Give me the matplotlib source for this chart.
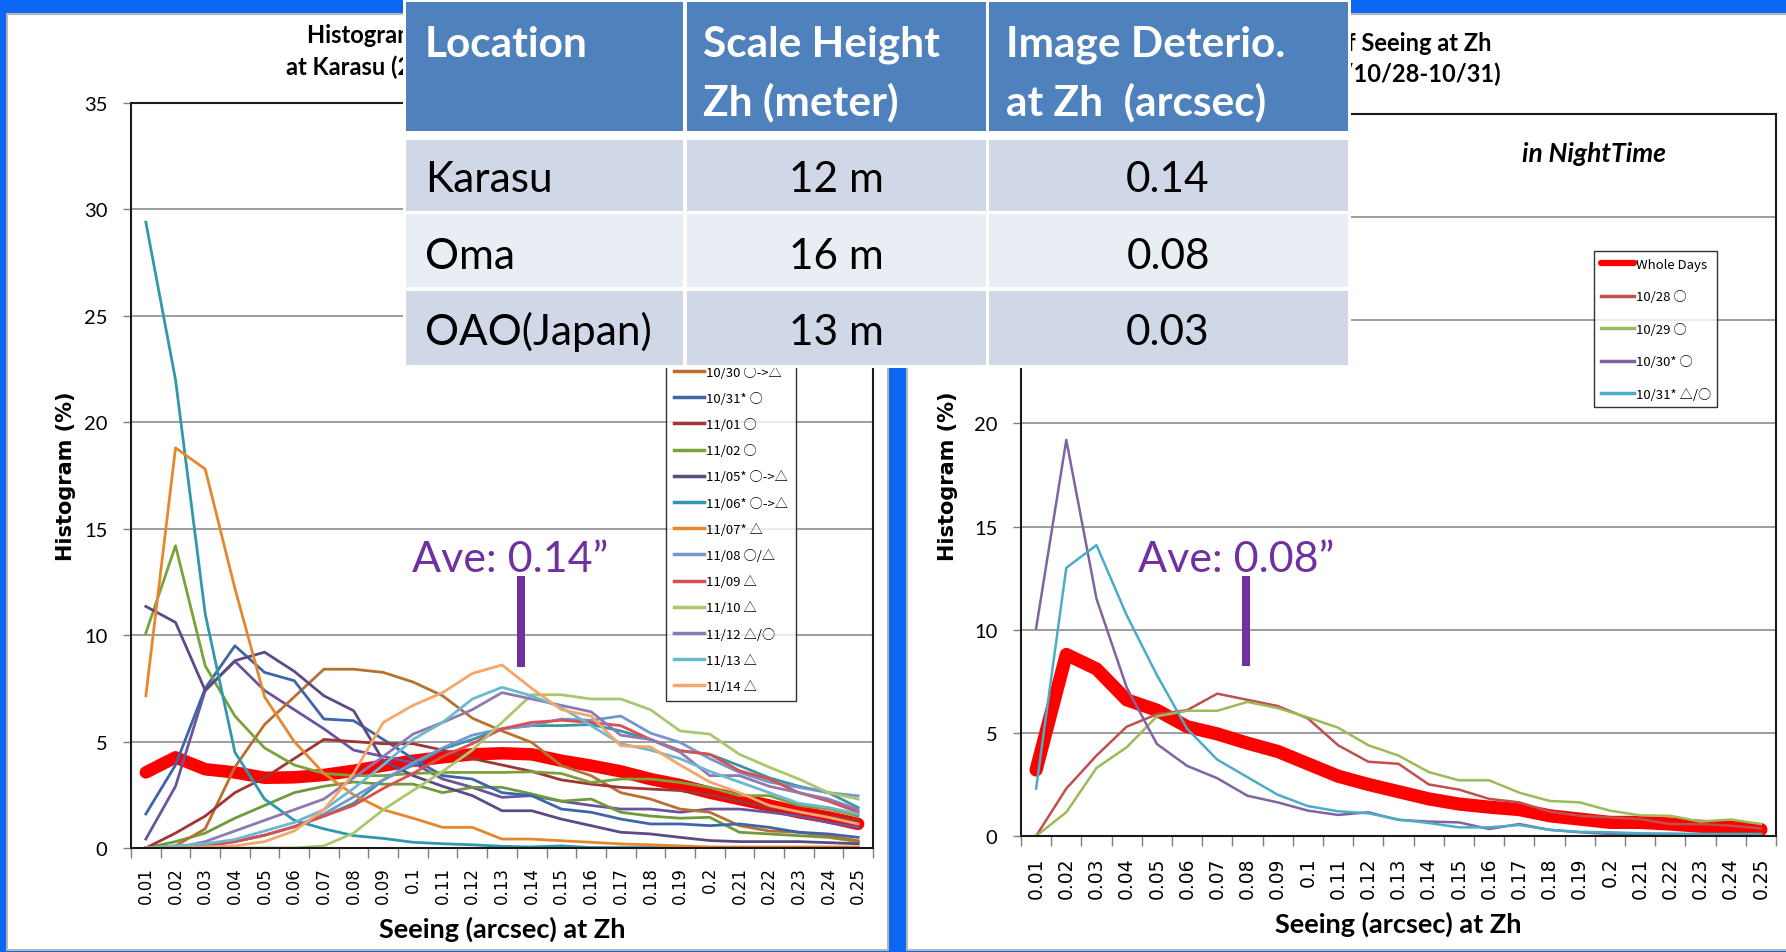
import numpy as np
import matplotlib.pyplot as plt
from matplotlib.patches import Rectangle

W, H = 1786, 953

# seeing bins (category axis)
seeing = ['0.01', '0.02', '0.03', '0.04', '0.05', '0.06', '0.07', '0.08', '0.09', '0.1',
          '0.11', '0.12', '0.13', '0.14', '0.15', '0.16', '0.17', '0.18', '0.19', '0.2',
          '0.21', '0.22', '0.23', '0.24', '0.25']

# --- Karasu histograms (%) ---
kar_whole = [3.55, 4.26, 3.7, 3.55, 3.3, 3.32, 3.43, 3.63, 3.87, 4.1, 4.26, 4.4, 4.45,
             4.4, 4.1, 3.87, 3.6, 3.24, 2.96, 2.6, 2.3, 2.0, 1.68, 1.44, 1.13]
kar_1030 = [0, 0.1, 0.9, 3.8, 5.8, 7.1, 8.4, 8.4, 8.25, 7.8, 7.15, 6.1, 5.5, 4.96, 3.87,
            3.4, 2.6, 2.3, 1.83, 1.68, 1.05, 0.8, 0.74, 0.58, 0.34]
kar_1031 = [1.6, 3.9, 7.5, 9.5, 8.25, 7.86, 6.06, 5.98, 5.1, 4.2, 3.4, 3.24, 2.6, 2.46,
            1.83, 1.68, 1.36, 1.13, 1.13, 1.05, 1.13, 0.97, 0.74, 0.66, 0.5]
kar_1101 = [0, 0.7, 1.5, 2.6, 3.3, 4.2, 5.1, 5.0, 4.9, 4.9, 4.6, 4.2, 3.9, 3.6, 3.2, 3.0,
            2.85, 2.77, 2.7, 2.5, 2.2, 1.9, 1.7, 1.5, 1.3]
kar_1102 = [10.1, 14.2, 8.56, 6.2, 4.7, 3.9, 3.5, 3.4, 3.4, 3.5, 3.55, 3.55, 3.55, 3.58,
            3.5, 3.08, 3.24, 3.24, 3.08, 2.85, 2.46, 2.46, 2.0, 1.83, 1.5]
kar_1105 = [11.35, 10.6, 7.4, 8.8, 9.2, 8.3, 7.15, 6.45, 4.1, 3.4, 2.9, 2.46, 1.75, 1.75,
            1.36, 1.05, 0.74, 0.66, 0.5, 0.35, 0.3, 0.3, 0.3, 0.25, 0.2]
kar_1106 = [29.4, 22.0, 11.0, 4.5, 2.3, 1.3, 0.9, 0.58, 0.45, 0.27, 0.2, 0.15, 0.08, 0.05,
            0.1, 0.02, 0.02, 0.02, 0.02, 0.02, 0.02, 0.02, 0.02, 0.02, 0.02]
kar_1107 = [7.15, 18.8, 17.8, 12.2, 7.1, 5.0, 3.5, 2.5, 1.8, 1.4, 0.97, 0.97, 0.42, 0.42,
            0.34, 0.27, 0.19, 0.15, 0.1, 0.05, 0.05, 0.05, 0.05, 0.05, 0.05]
kar_1108 = [0, 0, 0.1, 0.3, 0.6, 1.0, 1.6, 2.4, 3.2, 4.0, 4.7, 5.3, 5.6, 5.75, 6.06, 6.0,
            6.2, 5.4, 4.96, 4.2, 3.55, 3.1, 2.85, 2.6, 2.45]
kar_1109 = [0, 0, 0.1, 0.3, 0.6, 1.0, 1.5, 2.0, 2.8, 3.5, 4.3, 4.9, 5.6, 5.9, 6.0, 5.9,
            5.75, 5.1, 4.57, 4.4, 3.63, 3.24, 2.6, 2.2, 1.68]
kar_1110 = [0, 0, 0, 0, 0, 0, 0.1, 0.7, 1.8, 2.7, 3.6, 4.6, 5.9, 7.2, 7.2, 7.0, 7.0, 6.5,
            5.5, 5.35, 4.4, 3.8, 3.24, 2.6, 2.3]
kar_1112 = [0, 0, 0.3, 0.8, 1.3, 1.8, 2.3, 3.3, 4.3, 5.35, 5.9, 6.5, 7.3, 7.0, 6.7, 6.4,
            5.3, 5.1, 4.5, 3.4, 3.4, 2.9, 2.6, 2.3, 1.8]
kar_1113 = [0, 0.1, 0.2, 0.4, 0.8, 1.2, 1.8, 2.8, 3.9, 5.1, 5.9, 7.0, 7.55, 7.15, 6.6,
            5.75, 4.9, 4.6, 4.2, 3.6, 3.1, 2.6, 2.1, 1.9, 1.6]
kar_1114 = [0, 0, 0.05, 0.1, 0.3, 0.8, 1.8, 3.5, 5.9, 6.7, 7.3, 8.2, 8.6, 7.5, 6.5, 6.2,
            4.8, 4.75, 3.9, 3.1, 2.6, 2.0, 1.7, 1.44, 1.13]
# days whose legend entries sit under the table
kar_early_a = [0.42, 2.9, 7.4, 8.77, 7.4, 6.5, 5.6, 4.6, 4.3, 4.0, 3.24, 2.85, 2.38, 2.46,
               2.2, 2.0, 1.83, 1.83, 1.68, 1.83, 1.83, 1.68, 1.5, 1.2, 0.97]
kar_early_b = [0, 0.3, 0.7, 1.4, 2.0, 2.6, 2.9, 3.1, 3.0, 3.0, 2.6, 2.85, 2.85, 2.54, 2.2,
               2.3, 1.68, 1.5, 1.4, 1.44, 0.74, 0.66, 0.58, 0.5, 0.3]
kar_early_c = [0, 0, 0.1, 0.3, 0.6, 1.0, 1.5, 2.1, 3.2, 3.9, 4.65, 5.1, 5.6, 5.75, 5.75,
               5.8, 5.5, 5.1, 4.57, 4.4, 3.87, 3.3, 2.9, 2.6, 1.9]

# --- Oma histograms (%) ---
oma_whole = [3.2, 8.8, 8.1, 6.6, 6.1, 5.3, 4.95, 4.5, 4.1, 3.5, 2.9, 2.5, 2.15, 1.8, 1.55,
             1.4, 1.28, 0.98, 0.82, 0.66, 0.66, 0.58, 0.47, 0.42, 0.31]
oma_1028 = [0, 2.3, 3.9, 5.3, 5.9, 6.1, 6.9, 6.6, 6.3, 5.7, 4.4, 3.6, 3.5, 2.5, 2.25, 1.8,
            1.63, 1.18, 0.98, 0.9, 0.82, 0.58, 0.58, 0.5, 0.37]
oma_1029 = [0, 1.15, 3.3, 4.3, 5.8, 6.07, 6.07, 6.5, 6.2, 5.75, 5.25, 4.4, 3.9, 3.1, 2.7,
            2.7, 2.1, 1.7, 1.63, 1.23, 1.0, 0.98, 0.7, 0.8, 0.58]
oma_1030 = [10.06, 19.2, 11.5, 7.2, 4.46, 3.4, 2.8, 1.95, 1.63, 1.23, 1.02, 1.15, 0.78,
            0.7, 0.66, 0.34, 0.58, 0.3, 0.18, 0.1, 0.1, 0.08, 0.07, 0.06, 0.05]
oma_1031 = [2.3, 13.0, 14.1, 10.7, 7.8, 5.2, 3.7, 2.85, 2.0, 1.45, 1.2, 1.1, 0.8, 0.63,
            0.42, 0.42, 0.53, 0.3, 0.2, 0.18, 0.13, 0.12, 0.1, 0.1, 0.1]

# --- table on the slide ---
tbl_header = [['Location', ''], ['Scale Height', 'Zh (meter)'], ['Image Deterio.', 'at Zh  (arcsec)']]
tbl_location = ['Karasu', 'Oma', 'OAO(Japan)']
tbl_height = ['12 m', '16 m', '13 m']
tbl_deterio = ['0.14', '0.08', '0.03']
ave_karasu = '0.14'
ave_oma = '0.08'

kar_series = [
    (kar_early_a, '#6a54a0', '_a'),
    (kar_early_b, '#6f9a3c', '_b'),
    (kar_early_c, '#3b94a6', '_c'),
    (kar_1030, '#b8702e', '10/30 ○->△'),
    (kar_1031, '#3e66a6', '10/31* ○'),
    (kar_1101, '#a13434', '11/01 ○'),
    (kar_1102, '#7ba23a', '11/02 ○'),
    (kar_1105, '#5d4a84', '11/05* ○->△'),
    (kar_1106, '#2f98ae', '11/06* ○->△'),
    (kar_1107, '#e8862e', '11/07* △'),
    (kar_1108, '#7396cc', '11/08 ○/△'),
    (kar_1109, '#d85050', '11/09 △'),
    (kar_1110, '#a9c86e', '11/10 △'),
    (kar_1112, '#8e7ab0', '11/12 △/○'),
    (kar_1113, '#6cb8d0', '11/13 △'),
    (kar_1114, '#f5a66a', '11/14 △'),
]
oma_series = [
    (oma_1028, '#c0504d', '10/28 ○'),
    (oma_1029, '#9bbb59', '10/29 ○'),
    (oma_1030, '#8064a2', '10/30* ○'),
    (oma_1031, '#4bacc6', '10/31* △/○'),
]


def px_box(x0, y0, x1, y1):
    return [x0 / W, 1 - y1 / H, (x1 - x0) / W, (y1 - y0) / H]


fig = plt.figure(figsize=(W / 100, H / 100), dpi=100)
fig.patch.set_facecolor('#0b66f4')

under = fig.add_axes(px_box(0, 0, W, H), zorder=0)
over = fig.add_axes(px_box(0, 0, W, H), zorder=5)
for a in (under, over):
    a.set_xlim(0, W)
    a.set_ylim(H, 0)
    a.axis('off')
    a.patch.set_visible(False)

# white chart panels
under.add_patch(Rectangle((7, 15), 881, 936, fc='white', ec='#b4b4b4', lw=1.5))
under.add_patch(Rectangle((907, 15), 890, 936, fc='white', ec='#b4b4b4', lw=1.5))

ax1 = fig.add_axes(px_box(131, 104, 873, 849), zorder=1)
ax2 = fig.add_axes(px_box(1021, 115, 1776, 837), zorder=1)


def style_chart(ax, tick_fs, xpad):
    n = len(seeing)
    ax.set_xlim(-0.5, n - 0.5)
    ax.set_ylim(0, 35)
    ax.set_xticks(np.arange(n + 1) - 0.5)
    ax.set_xticklabels([])
    ax.set_xticks(np.arange(n), minor=True)
    ax.set_xticklabels(seeing, minor=True, rotation=90, fontsize=tick_fs)
    ax.tick_params(axis='x', which='major', length=7, width=1, color='#7f7f7f')
    ax.tick_params(axis='x', which='minor', length=0, pad=xpad)
    ax.set_yticks(range(0, 36, 5))
    ax.tick_params(axis='y', length=6, width=1, color='#7f7f7f', pad=11, labelsize=14.5)
    for t in ax.get_yticklabels():
        t.set_fontfamily('Lato')
    ax.grid(axis='y', color='#8c8c8c', lw=1.2)
    ax.set_axisbelow(True)
    for s in ax.spines.values():
        s.set_color('#1a1a1a')
        s.set_linewidth(1.5)


x = np.arange(len(seeing))

ax1.plot(x, kar_whole, color='#ff0000', lw=9, solid_joinstyle='round',
         solid_capstyle='round', label='Whole Days')
for vals, col, lab in kar_series:
    ax1.plot(x, vals, color=col, lw=2, label=lab)
style_chart(ax1, 12, 13)

ax2.plot(x, oma_whole, color='#ff0000', lw=9.5, solid_joinstyle='round',
         solid_capstyle='round', label='Whole Days')
for vals, col, lab in oma_series:
    ax2.plot(x, vals, color=col, lw=1.8, label=lab)
style_chart(ax2, 13.5, 15)

leg_kw = dict(frameon=True, fancybox=False, shadow=False, handletextpad=0.15,
              prop={'family': ['Noto Sans CJK JP', 'DejaVu Sans'], 'size': 9.5},
              borderaxespad=0, bbox_transform=fig.transFigure)
leg1 = ax1.legend(loc='lower left', bbox_to_anchor=(666 / W, 1 - 702 / H),
                  handlelength=2.3, labelspacing=1.0, borderpad=0.6, **leg_kw)
leg2 = ax2.legend(loc='upper left', bbox_to_anchor=(1594 / W, 1 - 252 / H),
                  handlelength=2.5, labelspacing=1.48, borderpad=0.5, **leg_kw)
for leg in (leg1, leg2):
    leg.get_frame().set_edgecolor('black')
    leg.get_frame().set_linewidth(1)
    for h in leg.legend_handles:
        h.set_linewidth(4.5 if h.get_label() == 'Whole Days' else 2.5)

# titles and axis labels
title_kw = dict(family='Lato', weight='bold', fontsize=17, va='baseline', zorder=1)
over.text(307, 43, 'Histogram of Seeing at Zh', ha='left', **title_kw)
over.text(286, 75, 'at Karasu (2011/10/30-11/14)', ha='left', **title_kw)
over.text(1491, 51, 'Histogram of Seeing at Zh', ha='right', **title_kw)
over.text(1501, 82, 'at Oma (2011/10/28-10/31)', ha='right', **title_kw)

for cx in (66, 948):
    over.text(cx, 476, 'Histogram (%)', rotation=90, ha='center', va='center',
              family='DejaVu Sans', weight='bold', fontsize=15)
for cx, by in ((502, 938), (1398, 933)):
    over.text(cx, by, 'Seeing (arcsec) at Zh', ha='center', va='baseline',
              family='Lato', weight='bold', fontsize=19.5)

over.text(1594, 162, 'in NightTime', ha='center', va='baseline', family='Lato',
          weight='bold', style='italic', fontsize=19)

# average markers
purple = '#7030a0'
over.text(412, 572, 'Ave: ' + ave_karasu + '\u201d', color=purple, family='Lato',
          fontsize=31, va='baseline')
over.text(1138, 572, 'Ave: ' + ave_oma + '\u201d', color=purple, family='Lato',
          fontsize=31, va='baseline')
over.add_patch(Rectangle((517, 577), 8, 91, fc=purple, ec='none'))
over.add_patch(Rectangle((1242, 577), 8, 90, fc=purple, ec='none'))

# table overlay
col_edges = [(406, 683), (687, 986), (989, 1348)]
row_edges = [(3, 132), (141, 212), (215, 288), (292, 366)]
row_fill = ['#4f81bd', '#d0d8e8', '#e9edf4', '#d0d8e8']
over.add_patch(Rectangle((403, 0), 948, 369, fc='white', ec='none', zorder=4))
for r, (y0, y1) in enumerate(row_edges):
    for x0, x1 in col_edges:
        over.add_patch(Rectangle((x0, y0), x1 - x0, y1 - y0, fc=row_fill[r],
                                 ec='none', zorder=5))

head_x = [425, 703, 1006]
for hx, (l1, l2) in zip(head_x, tbl_header):
    over.text(hx, 57, l1, color='white', weight='bold', family='Lato', fontsize=30.5,
              va='baseline', zorder=6)
    over.text(hx, 115, l2, color='white', weight='bold', family='Lato', fontsize=30.5,
              va='baseline', zorder=6)

body_base = [192, 269, 345]
for by, loc, hgt, det in zip(body_base, tbl_location, tbl_height, tbl_deterio):
    over.text(425, by, loc, family='Lato', fontsize=30.5, va='baseline', zorder=6)
    over.text(836, by, hgt, family='Lato', fontsize=30.5, va='baseline', ha='center', zorder=6)
    over.text(1168, by, det, family='Lato', fontsize=30.5, va='baseline', ha='center', zorder=6)

fig.savefig('out.png', dpi=100, facecolor=fig.get_facecolor())
